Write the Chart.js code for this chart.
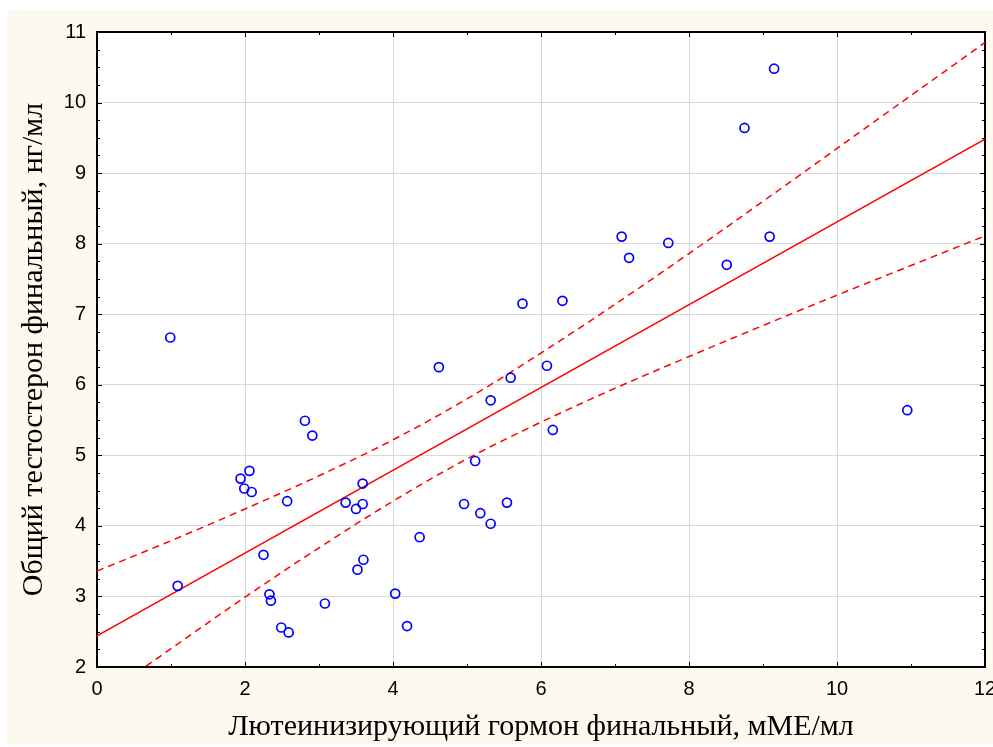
<!DOCTYPE html>
<html>
<head>
<meta charset="utf-8">
<script src="https://cdn.jsdelivr.net/npm/chart.js@4.4.1/dist/chart.umd.min.js"></script>
<style>
  html, body { margin: 0; padding: 0; background: #fff; }
  canvas { display: block; }
</style>
</head>
<body>
<canvas id="c" width="993" height="747"></canvas>
<script>
// Final LH (mIU/ml) vs final total testosterone (ng/ml), one entry per patient
const lhValues = [
  0.99, 1.09, 1.94, 1.99, 2.06, 2.09, 2.25, 2.33, 2.35, 2.49, 2.59,
  2.57, 2.81, 2.91, 3.08, 3.36, 3.50, 3.52, 3.59, 3.59, 3.60, 4.03,
  4.19, 4.36, 4.62, 4.96, 5.11, 5.18, 5.32, 5.32, 5.54, 5.59, 5.75,
  6.08, 6.16, 6.29, 7.09, 7.19, 7.72, 8.51, 8.75, 9.09, 9.15, 10.95
];
const testosteroneValues = [
  6.67, 3.15, 4.67, 4.53, 4.78, 4.48, 3.59, 3.03, 2.94, 2.56, 2.49,
  4.35, 5.49, 5.28, 2.90, 4.33, 4.24, 3.38, 4.60, 4.31, 3.52, 3.04,
  2.58, 3.84, 6.25, 4.31, 4.92, 4.18, 4.03, 5.78, 4.33, 6.10, 7.15,
  6.27, 5.36, 7.19, 8.10, 7.80, 8.01, 7.70, 9.64, 8.10, 10.48, 5.64
];

// Linear fit end points
const fitX = [0, 12];
const fitY = [2.44, 9.48];

// 95% confidence band of the fit
const bandX = [0, 1, 2, 3, 4, 5, 6, 7, 8, 9, 10, 11, 12];
const bandUpper = [3.36, 3.79, 4.24, 4.71, 5.22, 5.80, 6.45, 7.14, 7.86, 8.60, 9.35, 10.10, 10.85];
const bandLower = [1.52, 2.26, 2.99, 3.69, 4.35, 4.95, 5.47, 5.95, 6.40, 6.84, 7.27, 7.69, 8.11];

// Axis ticks
const xTicks = [0, 2, 4, 6, 8, 10, 12];
const yTicks = [2, 3, 4, 5, 6, 7, 8, 9, 10, 11];
const xMinorTicks = [1, 3, 5, 7, 9, 11];
const yMinorStep = 0.25;

const xTitle = 'Лютеинизирующий гормон финальный, мМЕ/мл';
const yTitle = 'Общий тестостерон финальный, нг/мл';

const pairs = (xs, ys) => xs.map((x, i) => ({ x: x, y: ys[i] }));

const backgroundPlugin = {
  id: 'panelBackground',
  beforeDraw(chart) {
    const { ctx, width, height, chartArea: a } = chart;
    ctx.save();
    ctx.fillStyle = '#ffffff';
    ctx.fillRect(0, 0, width, height);
    ctx.fillStyle = '#fdf9ee';
    ctx.fillRect(7, 10, width - 7, height - 12);
    ctx.fillStyle = '#ffffff';
    ctx.fillRect(a.left, a.top, a.right - a.left, a.bottom - a.top);
    ctx.restore();
  }
};

const framePlugin = {
  id: 'plotFrame',
  beforeDatasetsDraw(chart) {
    const { ctx, chartArea: a, scales } = chart;
    const xs = scales.x, ys = scales.y;
    ctx.save();
    ctx.strokeStyle = '#000';
    ctx.lineWidth = 1;
    ctx.beginPath();
    const tick = (v, len, horizontal) => {
      if (horizontal) {
        const px = Math.round(xs.getPixelForValue(v)) + 0.5;
        ctx.moveTo(px, a.bottom); ctx.lineTo(px, a.bottom - len);
        ctx.moveTo(px, a.top); ctx.lineTo(px, a.top + len);
      } else {
        const py = Math.round(ys.getPixelForValue(v)) + 0.5;
        ctx.moveTo(a.left, py); ctx.lineTo(a.left + len, py);
        ctx.moveTo(a.right, py); ctx.lineTo(a.right - len, py);
      }
    };
    xTicks.forEach(v => tick(v, 5, true));
    xMinorTicks.forEach(v => tick(v, 3, true));
    yTicks.forEach(v => tick(v, 5, false));
    for (let v = yTicks[0]; v < yTicks[yTicks.length - 1]; v += yMinorStep) {
      if (Math.abs(v - Math.round(v)) > 1e-6) tick(v, 3, false);
    }
    ctx.stroke();
    ctx.lineWidth = 2;
    ctx.strokeRect(a.left, a.top, a.right - a.left, a.bottom - a.top);
    ctx.restore();
  }
};

new Chart(document.getElementById('c'), {
  type: 'scatter',
  data: {
    datasets: [
      {
        label: 'Пациенты',
        data: pairs(lhValues, testosteroneValues),
        showLine: false,
        pointStyle: 'circle',
        pointRadius: 4.5,
        pointBorderWidth: 1.7,
        borderColor: '#0000ff',
        backgroundColor: 'rgba(0,0,0,0)'
      },
      {
        label: 'Регрессия',
        data: pairs(fitX, fitY),
        showLine: true,
        pointRadius: 0,
        borderColor: '#ff0000',
        borderWidth: 1.5
      },
      {
        label: '95% верхняя',
        data: pairs(bandX, bandUpper),
        showLine: true,
        pointRadius: 0,
        borderColor: '#ff0000',
        borderWidth: 1.5,
        borderDash: [7, 5],
        cubicInterpolationMode: 'monotone'
      },
      {
        label: '95% нижняя',
        data: pairs(bandX, bandLower),
        showLine: true,
        pointRadius: 0,
        borderColor: '#ff0000',
        borderWidth: 1.5,
        borderDash: [7, 5],
        cubicInterpolationMode: 'monotone'
      }
    ]
  },
  options: {
    responsive: false,
    animation: false,
    devicePixelRatio: 1,
    layout: { padding: { left: 0, right: 8, top: 32, bottom: 0 } },
    plugins: { legend: { display: false }, tooltip: { enabled: false } },
    scales: {
      x: {
        type: 'linear',
        min: 0, max: 12,
        afterBuildTicks: s => { s.ticks = xTicks.map(v => ({ value: v })); },
        afterFit: s => { s.height = 80; s.paddingLeft = 0; s.paddingRight = 0; },
        grid: { color: '#d9d9d9', lineWidth: 1, drawTicks: false },
        border: { display: false },
        ticks: { color: '#000', padding: 10, maxRotation: 0, font: { family: 'Liberation Sans', size: 20 } },
        title: { display: true, text: xTitle, color: '#000', padding: { top: 0, bottom: 1.5 }, font: { family: 'Liberation Serif', size: 30 } }
      },
      y: {
        type: 'linear',
        min: 2, max: 11,
        afterBuildTicks: s => { s.ticks = yTicks.map(v => ({ value: v })); },
        afterFit: s => { s.width = 97; s.paddingTop = 0; s.paddingBottom = 0; },
        grid: { color: '#d9d9d9', lineWidth: 1, drawTicks: false },
        border: { display: false },
        ticks: { color: '#000', padding: 11, font: { family: 'Liberation Sans', size: 20 } },
        title: { display: true, text: yTitle, color: '#000', padding: { top: 16, bottom: 0 }, font: { family: 'Liberation Serif', size: 30 } }
      }
    }
  },
  plugins: [backgroundPlugin, framePlugin]
});
</script>
</body>
</html>
